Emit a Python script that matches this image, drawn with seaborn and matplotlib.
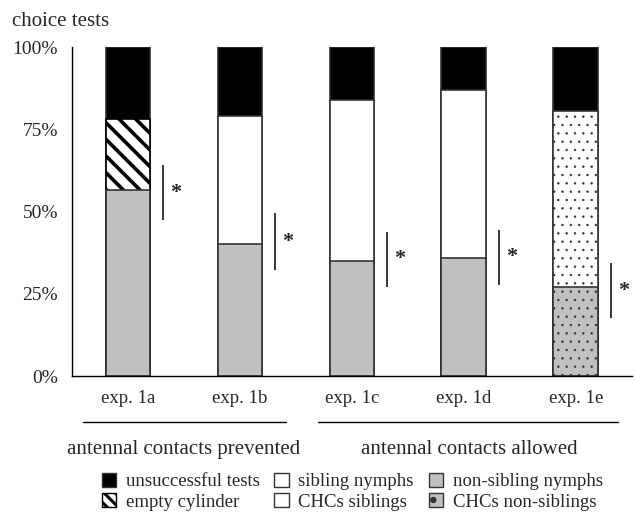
import matplotlib
matplotlib.use('Agg')
import matplotlib.pyplot as plt
from matplotlib.patches import Patch
from matplotlib.lines import Line2D
import seaborn as sns
import numpy as np

# Data (percent of tests)
experiments = ['exp. 1a', 'exp. 1b', 'exp. 1c', 'exp. 1d', 'exp. 1e']
lower_choice = [56.5, 40.0, 35.0, 36.0, 27.0]    # non-sibling nymphs / CHCs non-siblings
upper_choice = [21.5, 39.0, 49.0, 51.0, 53.5]    # empty cylinder / sibling nymphs / CHCs siblings
unsuccessful = [22.0, 21.0, 16.0, 13.0, 19.5]

# significance bars (percent span) next to each bar
sig_low = [47.4, 32.2, 27.1, 27.7, 17.6]
sig_high = [64.1, 49.5, 43.8, 44.4, 34.3]

group_labels = ['antennal contacts prevented', 'antennal contacts allowed']
legend_labels = ['unsuccessful tests', 'empty cylinder', 'sibling nymphs',
                 'CHCs siblings', 'non-sibling nymphs', 'CHCs non-siblings']

sns.set_style('white')
plt.rcParams['font.family'] = ['Liberation Serif', 'DejaVu Serif']
plt.rcParams['font.size'] = 14
plt.rcParams['hatch.linewidth'] = 2.2

GREY = '#c0c0c0'
EDGE = '#333333'

lower = np.array(lower_choice)
middle = lower + np.array(upper_choice)
total = middle + np.array(unsuccessful)

fig = plt.figure(figsize=(6.35, 5.15), dpi=100)
ax = fig.add_axes([0.1134, 0.2699, 0.8816, 0.6388])

# stacked bars: draw cumulative heights from top layer down
sns.barplot(x=experiments, y=total, color='black', edgecolor=EDGE, linewidth=1.2,
            width=0.4, saturation=1, ax=ax)
n = len(ax.patches)
sns.barplot(x=experiments, y=middle, color='white', edgecolor=EDGE, linewidth=1.2,
            width=0.4, saturation=1, ax=ax)
mid_patches = ax.patches[n:]
n = len(ax.patches)
sns.barplot(x=experiments, y=lower, color=GREY, edgecolor=EDGE, linewidth=1.2,
            width=0.4, saturation=1, ax=ax)
low_patches = ax.patches[n:]


def set_hatch(p, hatch, lw):
    p.set_hatch(hatch)
    if hasattr(p, 'set_hatch_linewidth'):
        p.set_hatch_linewidth(lw)


set_hatch(mid_patches[0], '\\\\', 2.6)
mid_patches[0].set_edgecolor('black')
set_hatch(mid_patches[4], '..', 0.5)
set_hatch(low_patches[4], '..', 0.5)

# significance marks
for i in range(len(experiments)):
    ax.plot([i + 0.31, i + 0.31], [sig_low[i], sig_high[i]], color='black', lw=1.1,
            solid_capstyle='butt')
    ax.text(i + 0.43, (sig_low[i] + sig_high[i]) / 2, '*', ha='center', va='center',
            fontsize=16, fontweight='bold')

ax.set_xlim(-0.5, len(experiments) - 0.5)
ax.set_ylim(0, 100)
ax.set_yticks([0, 25, 50, 75, 100])
ax.set_yticklabels(['0%', '25%', '50%', '75%', '100%'], fontsize=14)
ax.set_xticks(np.arange(-0.5, len(experiments)), minor=True)
ax.tick_params(axis='x', which='major', length=0, pad=10, labelsize=13.5)
ax.tick_params(axis='x', which='minor', length=5, width=1, direction='out', color='black')
ax.tick_params(axis='y', length=5, width=1, direction='out', color='black', pad=5)
ax.set_xlabel('')
ax.set_ylabel('')
sns.despine(ax=ax)
for s in ['left', 'bottom']:
    ax.spines[s].set_color('black')
    ax.spines[s].set_linewidth(1)

# group lines and labels under the axis
trans = ax.get_xaxis_transform()
for x0, x1, xc, lab in [(-0.40, 1.41, 0.5, group_labels[0]),
                        (1.70, 4.38, 3.05, group_labels[1])]:
    ax.add_line(Line2D([x0, x1], [-0.140, -0.140], transform=trans, color='black',
                       lw=1, clip_on=False))
    ax.text(xc, -0.222, lab, transform=trans, ha='center', va='center', fontsize=15)

fig.text(0.019, 0.958, 'choice tests', ha='left', va='center', fontsize=15)

handles = [
    Patch(facecolor='black', edgecolor=EDGE),
    Patch(facecolor='white', edgecolor='black', hatch='\\\\\\'),
    Patch(facecolor='white', edgecolor=EDGE),
    Patch(facecolor='white', edgecolor=EDGE),
    Patch(facecolor=GREY, edgecolor=EDGE),
    Patch(facecolor=GREY, edgecolor=EDGE, hatch='.'),
]
fig.legend(handles, legend_labels, ncol=3, loc='upper left',
           bbox_to_anchor=(0.160, 0.082), frameon=False, fontsize=13.5,
           handlelength=0.78, handleheight=0.78, handletextpad=0.5,
           columnspacing=0.8, labelspacing=0.15, borderpad=0, borderaxespad=0)

fig.savefig('out.png', dpi=100)
